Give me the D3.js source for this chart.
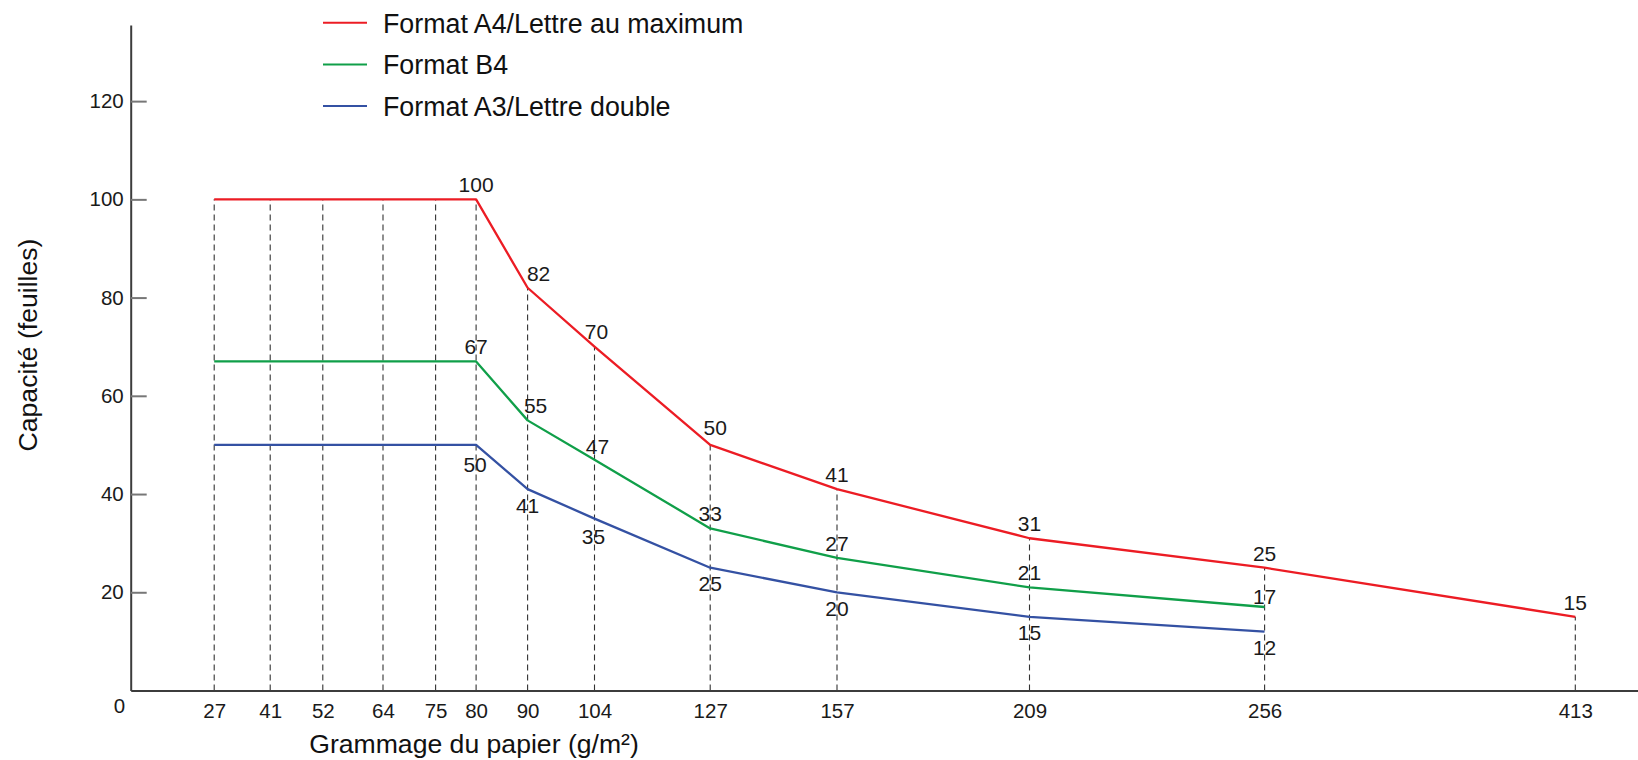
<!DOCTYPE html>
<html>
<head>
<meta charset="utf-8">
<script src="https://cdn.jsdelivr.net/npm/d3@7"></script>
<style>
body { margin: 0; background: #fff; }
svg { display: block; font-family: "Liberation Sans", Arial, Helvetica, sans-serif; }
</style>
</head>
<body>
<div id="chart"></div>
<script>
// data
var grammages = [27, 41, 52, 64, 75, 80, 90, 104, 127, 157, 209, 256, 413];
var capaciteA4 = [100, 100, 100, 100, 100, 100, 82, 70, 50, 41, 31, 25, 15];
var capaciteB4 = [67, 67, 67, 67, 67, 67, 55, 47, 33, 27, 21, 17, null];
var capaciteA3 = [50, 50, 50, 50, 50, 50, 41, 35, 25, 20, 15, 12, null];
var seriesNames = ["Format A4/Lettre au maximum", "Format B4", "Format A3/Lettre double"];
var yTicks = [0, 20, 40, 60, 80, 100, 120];
var xTitle = "Grammage du papier (g/m²)";
var yTitle = "Capacité (feuilles)";

var margin = {top: 25, right: 0, bottom: 69.5, left: 130.7},
    W = 1638, H = 760,
    width = W - margin.left - margin.right,
    height = H - margin.top - margin.bottom;

// the x axis of the original is not uniform, so a piecewise scale places each grammage
var xStops = [0, 83.5, 139.5, 192.1, 252.3, 304.9, 345.4, 396.9, 463.8, 579.5, 706.3, 898.8, 1133.9, 1444.6, width];
var x = d3.scaleLinear()
    .domain([0].concat(grammages, [440]))
    .range(xStops);

var y = d3.scaleLinear()
    .domain([0, 135.5])
    .range([height, 0]);

var colors = ["#ec1c24", "#109f49", "#3451a3"];

var series = [capaciteA4, capaciteB4, capaciteA3].map(function(vals, i) {
    return {
        name: seriesNames[i],
        color: colors[i],
        below: i === 2,
        points: grammages.map(function(g, j) { return {g: g, v: vals[j], idx: j}; })
                         .filter(function(d) { return d.v != null; })
    };
});

// small nudges so labels sit like in the picture
var nudge = {
    "0-6": [11, 0], "0-7": [2, -1], "0-8": [5, -3],
    "1-6": [8, 0], "1-7": [3, 1], "1-11": [0, 4],
    "2-5": [-1, 4], "2-7": [-1, 2]
};

var svg = d3.select("#chart").append("svg")
    .attr("width", W)
    .attr("height", H);

var g = svg.append("g")
    .attr("transform", "translate(" + margin.left + "," + margin.top + ")");

// dashed guides from the axis up to the highest curve
g.selectAll(".guide")
    .data(grammages)
    .enter()
    .append("line")
        .attr("class", "guide")
        .attr("x1", function(d) { return x(d); })
        .attr("x2", function(d) { return x(d); })
        .attr("y1", y(0))
        .attr("y2", function(d, i) { return y(d3.max([capaciteA4[i], capaciteB4[i], capaciteA3[i]])); })
        .attr("stroke", "#333")
        .attr("stroke-width", 1.1)
        .attr("stroke-dasharray", "6,4");

// y axis
var yAxis = g.append("g")
    .call(d3.axisLeft(y).tickValues(yTicks).tickSizeInner(-16).tickSizeOuter(0).tickPadding(7));
yAxis.select(".domain").attr("stroke", "#3c3c3c").attr("stroke-width", 2);
yAxis.selectAll(".tick line").attr("stroke", "#777").attr("stroke-width", 2);
yAxis.selectAll(".tick text")
    .attr("fill", "#1a1a1a")
    .style("font-size", "20.5px")
    .style("font-family", "'Liberation Sans', Arial, sans-serif");
// zero sits in the corner, without a tick
var zeroTick = yAxis.selectAll(".tick").filter(function(d) { return d === 0; });
zeroTick.select("line").remove();
zeroTick.select("text").attr("x", -5.5).attr("dy", "1.05em");

// x axis
var xAxis = g.append("g")
    .attr("transform", "translate(0," + height + ")")
    .call(d3.axisBottom(x).tickValues(grammages).tickSize(0).tickPadding(12.5));
xAxis.select(".domain").attr("stroke", "#3c3c3c").attr("stroke-width", 2);
xAxis.selectAll(".tick text")
    .attr("fill", "#1a1a1a")
    .style("font-size", "20.5px")
    .style("font-family", "'Liberation Sans', Arial, sans-serif");

// lines
var line = d3.line()
    .x(function(d) { return x(d.g); })
    .y(function(d) { return y(d.v); });

g.selectAll(".serie")
    .data(series)
    .enter()
    .append("path")
        .attr("class", "serie")
        .attr("d", function(d) { return line(d.points); })
        .attr("fill", "none")
        .attr("stroke", function(d) { return d.color; })
        .attr("stroke-width", 2.3)
        .attr("stroke-linejoin", "round");

// value labels from 80 g/m2 onwards
var firstLabel = grammages.indexOf(80);
series.forEach(function(s, si) {
    g.selectAll(".lbl" + si)
        .data(s.points.filter(function(d) { return d.idx >= firstLabel; }))
        .enter()
        .append("text")
            .attr("class", "lbl" + si)
            .attr("x", function(d) { var n = nudge[si + "-" + d.idx] || [0, 0]; return x(d.g) + n[0]; })
            .attr("y", function(d) { var n = nudge[si + "-" + d.idx] || [0, 0]; return y(d.v) + (s.below ? 23.5 : -7) + n[1]; })
            .attr("text-anchor", "middle")
            .attr("fill", "#1a1a1a")
            .style("font-size", "21px")
            .text(function(d) { return d.v; });
});

// legend
var legend = svg.selectAll(".legend")
    .data(series)
    .enter()
    .append("g")
        .attr("class", "legend")
        .attr("transform", function(d, i) { return "translate(323," + (22.7 + i * 41.7) + ")"; });

legend.append("line")
    .attr("x1", 0)
    .attr("x2", 44)
    .attr("stroke", function(d) { return d.color; })
    .attr("stroke-width", 2);

legend.append("text")
    .attr("x", 60)
    .attr("y", 10)
    .attr("fill", "#111")
    .style("font-size", "26.8px")
    .text(function(d) { return d.name; });

// axis titles
svg.append("text")
    .attr("x", 474)
    .attr("y", 753)
    .attr("text-anchor", "middle")
    .attr("fill", "#111")
    .style("font-size", "26.6px")
    .text(xTitle);

svg.append("text")
    .attr("transform", "translate(37,345) rotate(-90)")
    .attr("text-anchor", "middle")
    .attr("fill", "#111")
    .style("font-size", "26.6px")
    .text(yTitle);
</script>
</body>
</html>
